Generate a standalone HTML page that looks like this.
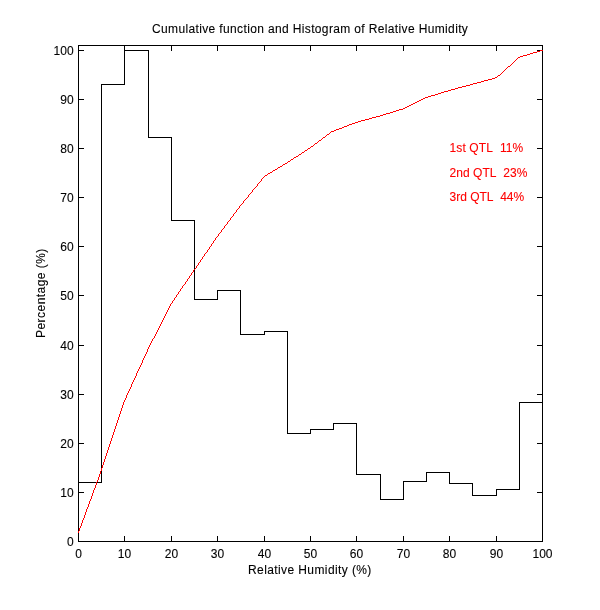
<!DOCTYPE html>
<html><head><meta charset="utf-8"><title>Cumulative function and Histogram of Relative Humidity</title>
<style>
html,body{margin:0;padding:0;background:#fff}
body{width:600px;height:610px;position:relative;overflow:hidden;font-family:"Liberation Sans",Arial,sans-serif;font-size:12px;color:#000;line-height:14px}
.t{position:absolute;white-space:nowrap;height:14px}
.xt{top:547px;width:40px;text-align:center}
.yt{left:20px;width:53.6px;text-align:right}
.red{color:#f00}
.t{-webkit-text-stroke:0.1px currentColor}
</style></head><body>
<svg width="600" height="610" viewBox="0 0 600 610" style="position:absolute;left:0;top:0">
<g shape-rendering="crispEdges" fill="none" stroke="#000" stroke-width="1">
<rect x="78.5" y="45.5" width="464" height="496"/>
<path d="M78.5 541 V536 M78.5 46 V51"/>
<path d="M79 541.5 H84 M542 541.5 H537"/>
<path d="M124.5 541 V536 M124.5 46 V51"/>
<path d="M79 492.5 H84 M542 492.5 H537"/>
<path d="M171.5 541 V536 M171.5 46 V51"/>
<path d="M79 443.5 H84 M542 443.5 H537"/>
<path d="M217.5 541 V536 M217.5 46 V51"/>
<path d="M79 394.5 H84 M542 394.5 H537"/>
<path d="M264.5 541 V536 M264.5 46 V51"/>
<path d="M79 345.5 H84 M542 345.5 H537"/>
<path d="M310.5 541 V536 M310.5 46 V51"/>
<path d="M79 295.5 H84 M542 295.5 H537"/>
<path d="M356.5 541 V536 M356.5 46 V51"/>
<path d="M79 246.5 H84 M542 246.5 H537"/>
<path d="M403.5 541 V536 M403.5 46 V51"/>
<path d="M79 197.5 H84 M542 197.5 H537"/>
<path d="M449.5 541 V536 M449.5 46 V51"/>
<path d="M79 148.5 H84 M542 148.5 H537"/>
<path d="M496.5 541 V536 M496.5 46 V51"/>
<path d="M79 99.5 H84 M542 99.5 H537"/>
<path d="M542.5 541 V536 M542.5 46 V51"/>
<path d="M79 50.5 H84 M542 50.5 H537"/>
<path d="M78.5 482.5 V482.5 H101.5 V84.5 H124.5 V50.5 H148.5 V137.5 H171.5 V220.5 H194.5 V299.5 H217.5 V290.5 H240.5 V334.5 H264.5 V331.5 H287.5 V433.5 H310.5 V429.5 H333.5 V423.5 H356.5 V474.5 H380.5 V499.5 H403.5 V481.5 H426.5 V472.5 H449.5 V483.5 H472.5 V495.5 H496.5 V489.5 H519.5 V402.5 H542.5"/>
</g>
<path shape-rendering="crispEdges" fill="none" stroke="#f00" stroke-width="1" d="M78.5 533v-2M79.5 531v-3M80.5 528v-2M81.5 526v-3M82.5 523v-3M83.5 520v-2M84.5 518v-3M85.5 515v-3M86.5 512v-3M87.5 509v-2M88.5 507v-3M89.5 504v-3M90.5 501v-2M91.5 499v-3M92.5 496v-3M93.5 493v-3M94.5 490v-2M95.5 488v-3M96.5 485v-3M97.5 482v-2M98.5 480v-3M99.5 477v-3M100.5 474v-3M101.5 471v-3M102.5 468v-3M103.5 465v-3M104.5 462v-3M105.5 459v-3M106.5 456v-3M107.5 453v-3M108.5 450v-3M109.5 447v-3M110.5 444v-3M111.5 441v-3M112.5 438v-3M113.5 435v-3M114.5 432v-3M115.5 429v-3M116.5 426v-3M117.5 423v-3M118.5 420v-3M119.5 417v-3M120.5 414v-3M121.5 411v-3M122.5 408v-3M123.5 405v-3M124.5 402v-2M125.5 400v-2M126.5 398v-3M127.5 395v-2M128.5 393v-2M129.5 391v-2M130.5 389v-2M131.5 387v-3M132.5 384v-2M133.5 382v-2M134.5 380v-2M135.5 378v-2M136.5 376v-3M137.5 373v-2M138.5 371v-2M139.5 369v-2M140.5 367v-2M141.5 365v-2M142.5 363v-3M143.5 360v-2M144.5 358v-2M145.5 356v-2M146.5 354v-2M147.5 352v-3M148.5 349v-2M149.5 347v-2M150.5 345v-2M151.5 343v-2M152.5 341v-2M153 338.5h1M154.5 338v-2M155.5 336v-2M156.5 334v-2M157.5 332v-2M158.5 330v-2M159.5 328v-2M160.5 326v-2M161.5 324v-2M162.5 322v-2M163.5 320v-2M164.5 318v-2M165.5 316v-2M166.5 314v-2M167.5 312v-2M168.5 310v-2M169.5 308v-2M170.5 306v-2M171 303.5h1M172.5 303v-2M173 300.5h1M174.5 300v-2M175 297.5h1M176.5 297v-2M177 294.5h1M178.5 294v-2M179 291.5h1M180.5 291v-2M181 288.5h1M182.5 288v-2M183 285.5h1M184 284.5h1M185.5 284v-2M186 281.5h1M187.5 281v-2M188 278.5h1M189.5 278v-2M190 275.5h1M191.5 275v-2M192 272.5h1M193.5 272v-2M194 269.5h1M195 268.5h1M196.5 268v-2M197 265.5h1M198.5 265v-2M199 262.5h1M200.5 262v-2M201 259.5h1M202.5 259v-2M203 256.5h1M204.5 256v-2M205 253.5h1M206 252.5h1M207.5 252v-2M208 249.5h1M209.5 249v-2M210 246.5h1M211.5 246v-2M212 243.5h1M213.5 243v-2M214 240.5h1M215.5 240v-2M216 237.5h1M217 236.5h1M218.5 236v-2M219 233.5h1M220 232.5h1M221.5 232v-2M222 229.5h1M223 228.5h1M224.5 228v-2M225 225.5h1M226 224.5h1M227.5 224v-2M228 221.5h1M229 220.5h1M230.5 220v-2M231 217.5h1M232 216.5h1M233.5 216v-2M234 213.5h1M235 212.5h1M236.5 212v-2M237 209.5h1M238 208.5h1M239.5 208v-2M240 205.5h1M241 204.5h1M242 203.5h1M243.5 203v-2M244 200.5h1M245 199.5h1M246 198.5h1M247 197.5h1M248.5 197v-2M249 194.5h1M250 193.5h1M251 192.5h1M252.5 192v-2M253 189.5h1M254 188.5h1M255 187.5h1M256 186.5h1M257.5 186v-2M258 183.5h1M259 182.5h1M260 181.5h1M261.5 181v-2M262 178.5h1M263 177.5h1M264 176.5h1M265 175.5h2M267 174.5h1M268 173.5h2M270 172.5h2M272 171.5h1M273 170.5h2M275 169.5h2M277 168.5h1M278 167.5h2M280 166.5h2M282 165.5h1M283 164.5h2M285 163.5h2M287 162.5h1M288 161.5h2M290 160.5h1M291 159.5h2M293 158.5h1M294 157.5h2M296 156.5h2M298 155.5h1M299 154.5h2M301 153.5h1M302 152.5h2M304 151.5h1M305 150.5h2M307 149.5h1M308 148.5h2M310 147.5h1M311 146.5h2M313 145.5h1M314 144.5h1M315 143.5h2M317 142.5h1M318 141.5h1M319 140.5h2M321 139.5h1M322 138.5h1M323 137.5h2M325 136.5h1M326 135.5h1M327 134.5h2M329 133.5h1M330 132.5h1M331 131.5h3M334 130.5h2M336 129.5h3M339 128.5h3M342 127.5h2M344 126.5h3M347 125.5h2M349 124.5h3M352 123.5h3M355 122.5h3M358 121.5h3M361 120.5h4M365 119.5h4M369 118.5h3M372 117.5h4M376 116.5h4M380 115.5h3M383 114.5h3M386 113.5h4M390 112.5h3M393 111.5h3M396 110.5h3M399 109.5h4M403 108.5h2M405 107.5h2M407 106.5h2M409 105.5h2M411 104.5h2M413 103.5h2M415 102.5h2M417 101.5h2M419 100.5h2M421 99.5h2M423 98.5h2M425 97.5h3M428 96.5h3M431 95.5h4M435 94.5h3M438 93.5h3M441 92.5h3M444 91.5h4M448 90.5h3M451 89.5h4M455 88.5h3M458 87.5h4M462 86.5h4M466 85.5h4M470 84.5h3M473 83.5h4M477 82.5h4M481 81.5h3M484 80.5h4M488 79.5h4M492 78.5h3M495 77.5h2M497 76.5h1M498 75.5h2M500 74.5h1M501 73.5h1M502 72.5h1M503 71.5h1M504 70.5h1M505 69.5h1M506 68.5h1M507 67.5h1M508 66.5h2M510 65.5h1M511 64.5h1M512 63.5h1M513 62.5h1M514 61.5h1M515 60.5h1M516 59.5h1M517 58.5h1M518 57.5h2M520 56.5h3M523 55.5h4M527 54.5h3M530 53.5h3M533 52.5h4M537 51.5h3M540 50.5h3"/>
</svg>
<div class="t" id="title" style="left:152px;top:22px;letter-spacing:0.36px">Cumulative function and Histogram of Relative Humidity</div>
<div class="t" id="xlabel" style="left:248px;top:563px;letter-spacing:0.4px">Relative Humidity (%)</div>
<div class="t" id="ylabel" style="left:34px;top:338px;letter-spacing:0.46px;transform:rotate(-90deg);transform-origin:0 0">Percentage (%)</div>
<div class="t xt" style="left:58.5px">0</div>
<div class="t xt" style="left:104.5px">10</div>
<div class="t xt" style="left:151.5px">20</div>
<div class="t xt" style="left:197.5px">30</div>
<div class="t xt" style="left:244.5px">40</div>
<div class="t xt" style="left:290.5px">50</div>
<div class="t xt" style="left:336.5px">60</div>
<div class="t xt" style="left:383.5px">70</div>
<div class="t xt" style="left:429.5px">80</div>
<div class="t xt" style="left:476.5px">90</div>
<div class="t xt" style="left:522.5px">100</div>
<div class="t yt" style="top:535px">0</div>
<div class="t yt" style="top:486px">10</div>
<div class="t yt" style="top:437px">20</div>
<div class="t yt" style="top:388px">30</div>
<div class="t yt" style="top:339px">40</div>
<div class="t yt" style="top:289px">50</div>
<div class="t yt" style="top:240px">60</div>
<div class="t yt" style="top:191px">70</div>
<div class="t yt" style="top:142px">80</div>
<div class="t yt" style="top:93px">90</div>
<div class="t yt" style="top:44px">100</div>
<div class="t red" style="left:449.5px;top:141px;letter-spacing:0.12px">1st QTL&nbsp; 11%</div>
<div class="t red" style="left:449.5px;top:166px;letter-spacing:0.05px">2nd QTL&nbsp; 23%</div>
<div class="t red" style="left:449.5px;top:190px">3rd QTL&nbsp; 44%</div>
</body></html>
